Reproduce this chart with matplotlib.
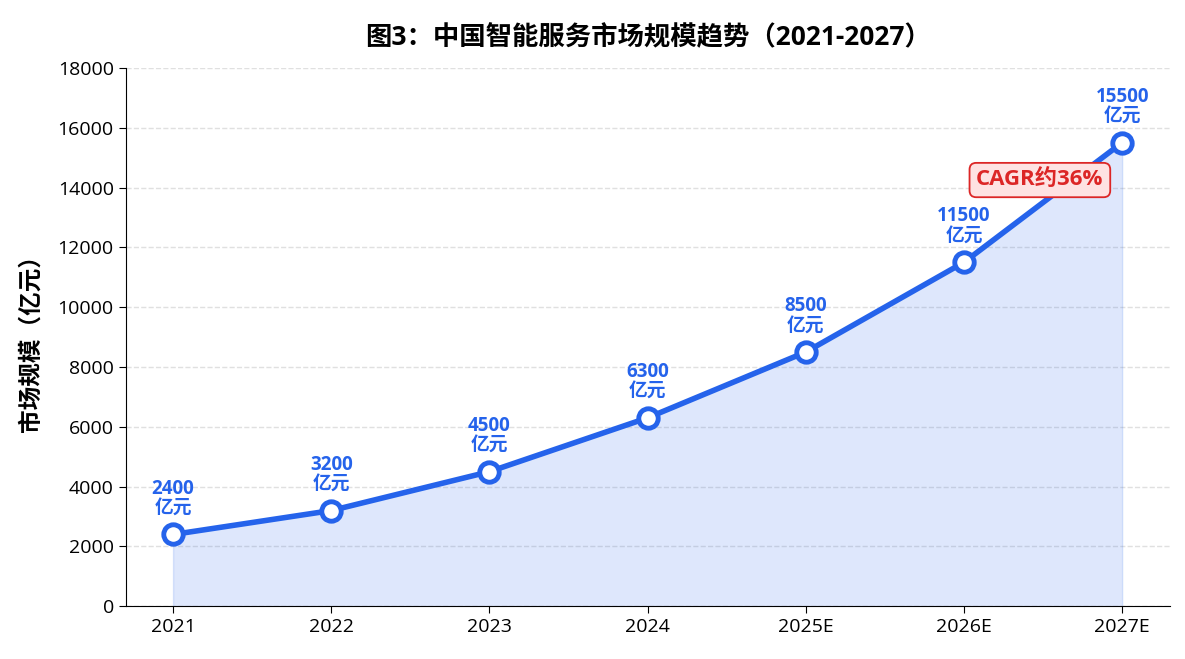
import numpy as np
import matplotlib
matplotlib.use("Agg")
import matplotlib.pyplot as plt

plt.rcParams['font.family'] = ['Open Sans', 'Noto Sans CJK SC', 'DejaVu Sans']
plt.rcParams['axes.unicode_minus'] = False

years = ['2021', '2022', '2023', '2024', '2025E', '2026E', '2027E']
market_size = [2400, 3200, 4500, 6300, 8500, 11500, 15500]

BLUE = '#2563eb'
RED = '#dc2626'

fig, ax = plt.subplots(figsize=(11.85, 6.59), dpi=100)
x = np.arange(len(years))

ax.fill_between(x, market_size, 0, color=BLUE, alpha=0.15)
ax.plot(x, market_size, color=BLUE, linewidth=4, marker='o', markersize=14,
        markerfacecolor='white', markeredgecolor=BLUE, markeredgewidth=3.5, zorder=3)

for xi, v in zip(x, market_size):
    ax.annotate(f'{v}\n亿元', (xi, v), xytext=(0, 12), textcoords='offset points',
                ha='center', va='bottom', fontsize=13.5, fontweight='bold',
                color=BLUE, linespacing=0.95)

ax.text(5.48, 14250, 'CAGR约36%', ha='center', va='center', fontsize=16,
        fontweight='bold', color=RED,
        bbox=dict(boxstyle='round,pad=0.3', facecolor='#fee2e2', edgecolor=RED, linewidth=1.3))

ax.set_xticks(x)
ax.set_xticklabels(years, fontsize=14)
ax.set_xlim(-0.3, 6.3)
ax.set_ylim(0, 18000)
ax.set_yticks(range(0, 18001, 2000))
ax.tick_params(axis='y', labelsize=14)
ax.tick_params(axis='both', length=5)
ax.set_ylabel('市场规模（亿元）', fontsize=17, fontweight='bold', labelpad=10)
ax.set_title('图3：中国智能服务市场规模趋势（2021-2027）', fontsize=19, fontweight='bold', pad=16)

ax.grid(axis='y', linestyle='--', color='#e0e0e0', linewidth=1)
ax.set_axisbelow(True)
ax.spines['top'].set_visible(False)
ax.spines['right'].set_visible(False)

plt.subplots_adjust(left=0.106, right=0.987, top=0.897, bottom=0.08)
plt.savefig('out.png', dpi=100)
